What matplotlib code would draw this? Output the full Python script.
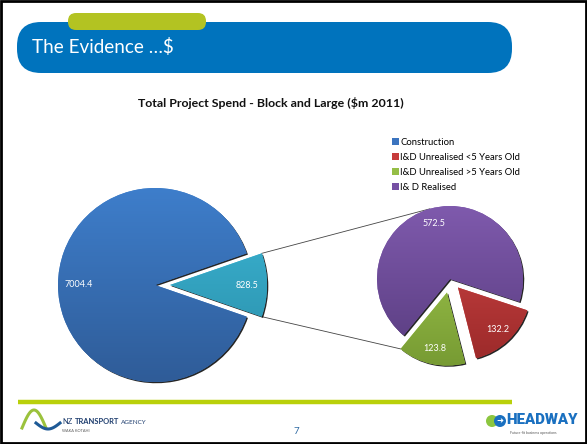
import numpy as np
import matplotlib.pyplot as plt
from matplotlib.patches import FancyBboxPatch, Patch, Circle, Rectangle
from matplotlib import patheffects as pe
from matplotlib.colors import to_rgb

plt.rcParams['font.family'] = ['Lato', 'DejaVu Sans']

# Datos del gráfico
total_labels = ['I&D', 'Construction']
total_values = [828.5, 7004.4]
id_labels = ['I&D Unrealised >5 Years Old', 'I&D Unrealised <5 Years Old', 'I& D Realised']
id_values = [123.8, 132.2, 572.5]
legend_labels = ['Construction', 'I&D Unrealised <5 Years Old',
                 'I&D Unrealised >5 Years Old', 'I& D Realised']

# Colores (arriba, abajo) para el degradado
colores_total = [('#3cb8d8', '#2a8ca6'), ('#3e7ecb', '#2f5c98')]
colores_id = [('#a3ca4f', '#779b33'), ('#d04646', '#9c2a2a'), ('#7f5aad', '#5b3e82')]
colores_leyenda = ['#3b74bf', '#c63b3b', '#95be46', '#7650a4']

W, H = 587, 444


def Y(y):
    # coordenadas de pixel (origen arriba) a datos
    return H - y


def pie_degradado(ax, values, colors, center, radius, startangle, explode):
    total = sum(values)
    # explode de matplotlib va en unidades de datos, no en fracción del radio
    wedges, texts, autotexts = ax.pie(
        values, colors=[c[0] for c in colors], center=center, radius=radius,
        startangle=startangle, explode=[e * radius for e in explode],
        autopct=lambda p: f'{p * total / 100:.1f}', pctdistance=0.79,
        textprops=dict(color='white', fontsize=6.5), wedgeprops=dict(linewidth=0))
    grad = np.linspace(0, 1, 120)[:, None, None]
    for w, (c1, c2) in zip(wedges, colors):
        w.set_path_effects([pe.SimplePatchShadow(offset=(0.9, -0.9), shadow_rgbFace='black', alpha=0.85),
                            pe.Normal()])
        cx, cy = w.center
        img = (1 - grad) * np.array(to_rgb(c1)) + grad * np.array(to_rgb(c2))
        im = ax.imshow(img, extent=[cx - radius, cx + radius, cy - radius, cy + radius],
                       origin='upper', aspect='auto', zorder=w.get_zorder() + 0.1,
                       interpolation='bilinear')
        im.set_clip_path(w)
    for t in autotexts:
        t.set_zorder(5)
    return wedges


fig = plt.figure(figsize=(W / 100, H / 100), dpi=100)
ax = fig.add_axes([0, 0, 1, 1])

# Pie principal
frac = total_values[0] / sum(total_values)
w_total = pie_degradado(ax, total_values, colores_total, center=(155, Y(285)), radius=97,
                        startangle=-180 * frac, explode=[0.155, 0])

# Pie secundario (desglose de I&D)
frac_real = id_values[2] / sum(id_values)
start2 = -18.2 - 360 * (1 - frac_real)
w_id = pie_degradado(ax, id_values, colores_id, center=(450, Y(279)), radius=73,
                     startangle=start2, explode=[0.19, 0.16, 0])

# Líneas de conexión
def punto(w, ang):
    cx, cy = w.center
    return cx + w.r * np.cos(np.radians(ang)), cy + w.r * np.sin(np.radians(ang))

p1 = punto(w_total[0], w_total[0].theta2)
p2 = punto(w_id[2], 106)
q1 = punto(w_total[0], w_total[0].theta1)
q2 = punto(w_id[0], w_id[0].theta1)
ax.plot([p1[0], p2[0]], [p1[1], p2[1]], color='#444444', lw=0.6, zorder=0.5)
ax.plot([q1[0], q2[0]], [q1[1], q2[1]], color='#444444', lw=0.6, zorder=0.5)

# Encabezado
ax.add_patch(FancyBboxPatch((17, Y(73)), 495, 51, boxstyle='round,pad=0,rounding_size=24',
                            fc='#0073bd', ec='none', zorder=2))
ax.add_patch(FancyBboxPatch((68, Y(30)), 138, 17, boxstyle='round,pad=0,rounding_size=8',
                            fc='#b3c322', ec='none', zorder=3))
ax.text(32, Y(47), 'The Evidence …$', color='white', fontsize=13.6, va='center', zorder=4)

# Título del gráfico
ax.text(271, Y(103), 'Total Project Spend - Block and Large ($m 2011)', ha='center', va='center',
        fontsize=8.9, fontweight='bold', color='#111111')

# Leyenda
handles = [Patch(facecolor=c, edgecolor='none') for c in colores_leyenda]
fig.legend(handles, legend_labels, loc='upper left', bbox_to_anchor=(392 / W, 1 - 138 / H),
           frameon=False, fontsize=6.8, handlelength=0.7, handleheight=0.7,
           handletextpad=0.2, labelspacing=0.62, borderpad=0, borderaxespad=0)

# Pie de página
ax.plot([18, 512], [Y(402), Y(402)], color='#b9d00b', lw=3.2, solid_capstyle='butt')

# Logo NZTA (aproximado)
t = np.linspace(0, 1, 50)
ax.plot(22 + 24 * t, Y(428) + 18 * np.sin(np.pi * t), color='#9bc23c', lw=2.2)
ax.plot(36 + 24 * t, Y(423) - 6 * np.sin(np.pi * t), color='#1e5a96', lw=2.2)
t1 = ax.text(62, Y(424), 'NZ', fontsize=5.4, color='#1e3d6e', va='baseline')
t2 = ax.annotate('TRANSPORT', xy=(1, 0), xycoords=t1, xytext=(1.6, 0), textcoords='offset points',
                 fontsize=5.4, fontweight='bold', color='#1e3d6e', va='bottom')
ax.annotate('AGENCY', xy=(1, 0), xycoords=t2, xytext=(1.4, 0), textcoords='offset points',
            fontsize=4.6, color='#1e3d6e', va='bottom')
ax.text(62, Y(431), 'WAKA KOTAHI', fontsize=2.8, color='#555555', va='center')

ax.text(296, Y(431), '7', fontsize=7, color='#2f6aa3', ha='center', va='center')

# Logo HEADWAY (aproximado)
ax.add_patch(Circle((492, Y(421)), 6, fc='#8cc63f', ec='none'))
ax.add_patch(Circle((500, Y(421)), 6, fc='#1a70c0', ec='none'))
ax.text(500, Y(421), '➜', fontsize=6, color='white', ha='center', va='center')
ax.text(506, Y(420.5), 'HEADWAY', fontsize=10.8, fontweight='heavy', color='#1a70c0',
        va='center', family=['Roboto', 'DejaVu Sans'])
ax.text(510, Y(433), 'Future-fit business operations', fontsize=2.5, color='#555555', va='center')

# Marco
ax.add_patch(Rectangle((1, 1), W - 2, H - 2, fill=False, ec='black', lw=2, zorder=10))

ax.set_xlim(0, W)
ax.set_ylim(0, H)
ax.set_aspect('equal')
ax.axis('off')

fig.savefig('out.png', dpi=100)
